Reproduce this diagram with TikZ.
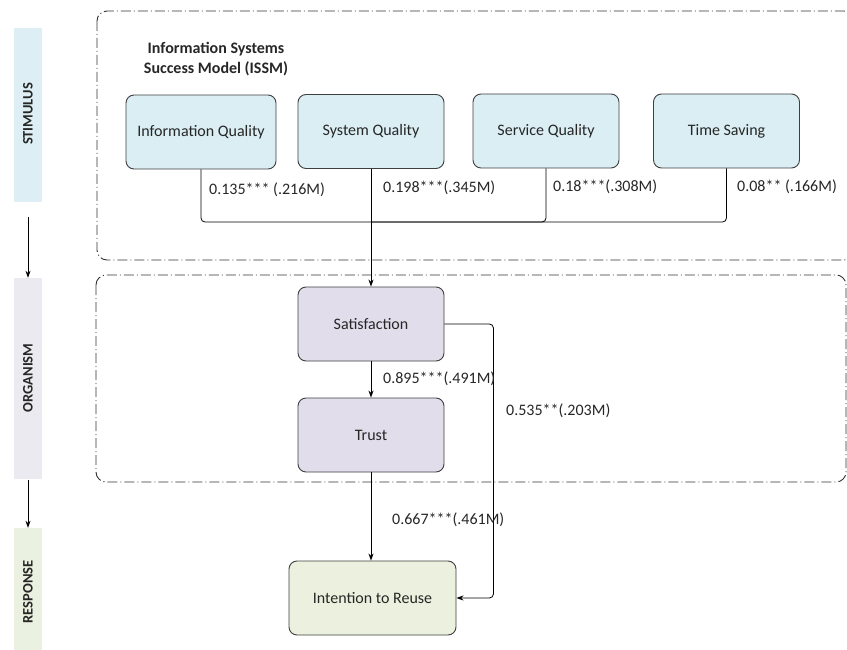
\documentclass[tikz,border=0pt]{standalone}
\usepackage{fontspec}
\setmainfont{Carlito}
\usetikzlibrary{arrows.meta}
\definecolor{stimfill}{HTML}{DAEEF3}
\definecolor{orgfill}{HTML}{E1DDEA}
\definecolor{respfill}{HTML}{EBF1DE}
\definecolor{stimbar}{HTML}{DDEFF4}
\definecolor{orgbar}{HTML}{EBEAF1}
\definecolor{respbar}{HTML}{EAF1E0}
\definecolor{edge}{HTML}{3F3F3F}
\definecolor{txt}{HTML}{262626}
\tikzset{
  x=1pt, y=-1pt,
  every node/.style={font=\fontsize{16}{19}\selectfont, text=txt},
  construct/.style={draw=edge, line width=0.9pt, rounded corners=8pt, minimum height=74pt, align=center, inner sep=2pt},
  stim/.style={construct, fill=stimfill, minimum width=146pt},
  org/.style={construct, fill=orgfill, minimum width=146pt},
  resp/.style={construct, fill=respfill, minimum width=167pt},
  phase/.style={draw=none, minimum width=28pt, inner sep=0pt},
  phaselabel/.style={rotate=90, font=\bfseries\fontsize{14.5}{17}\selectfont},
  group/.style={draw=black!80, line width=0.9pt, rounded corners=10pt, dash pattern=on 10pt off 3pt on 1pt off 3pt},
  link/.style={draw=black, line width=0.8pt, rounded corners=4pt},
  arrowlink/.style={link, -{Stealth[length=7pt, width=5pt]}},
  coef/.style={anchor=west, inner sep=0pt},
}
\begin{document}
\begin{tikzpicture}
\useasboundingbox (0,0) rectangle (847,650);

% stage bars on the left
\node[phase, fill=stimbar, minimum height=174pt] (sbar) at (28,115) {};
\node[phase, fill=orgbar, minimum height=201pt] (obar) at (28,378.5) {};
\node[phase, fill=respbar, minimum height=132pt] (rbar) at (28,594) {};
\node[phaselabel] (slab) at (28,114) {STIMULUS};
\node[phaselabel] (olab) at (28,378) {ORGANISM};
\node[phaselabel] (rlab) at (28,592) {RESPONSE};
\draw[arrowlink, shorten <=15pt] (sbar.south) -- (obar.north);
\draw[arrowlink, shorten <=1pt] (obar.south) -- (rbar.north);

% grouping frames
\draw[group] (97,11) rectangle (854,260);
\draw[group] (96,275) rectangle (846,482);

\node[font=\bfseries\fontsize{16}{20}\selectfont, align=center] (title) at (216,59)
  {Information Systems\\Success Model (ISSM)};

% constructs
\node[stim, minimum width=150pt] (iq) at (201,132) {Information Quality};
\node[stim] (sq) at (371,131.5) {System Quality};
\node[stim] (svq) at (546,131) {Service Quality};
\node[stim] (ts) at (726.5,131) {Time Saving};
\node[org] (sat) at (371,324) {Satisfaction};
\node[org] (tru) at (371,435) {Trust};
\node[resp] (itr) at (372.5,598) {Intention to Reuse};

% paths
\coordinate (junc) at (371,222);
\draw[link] (iq.south) |- (junc);
\draw[link] (svq.south) |- (junc);
\draw[link] (ts.south) |- (junc);
\draw[arrowlink] (sq.south) -- (sat.north);
\draw[arrowlink] (sat.south) -- (tru.north);
\draw[arrowlink] (tru.south) -- (tru.south |- itr.north);
\draw[arrowlink] (sat.east) -- ++(49,0) |- (itr.east);

% path coefficients
\node[coef] (c1) at (209,190) {0.135*** (.216M)};
\node[coef] (c2) at (383,188) {0.198***(.345M)};
\node[coef] (c3) at (553,187) {0.18***(.308M)};
\node[coef] (c4) at (737,187) {0.08** (.166M)};
\node[coef] (c5) at (383,379) {0.895***(.491M)};
\node[coef] (c6) at (506,411) {0.535**(.203M)};
\node[coef] (c7) at (392,520) {0.667***(.461M)};
\end{tikzpicture}
\end{document}
